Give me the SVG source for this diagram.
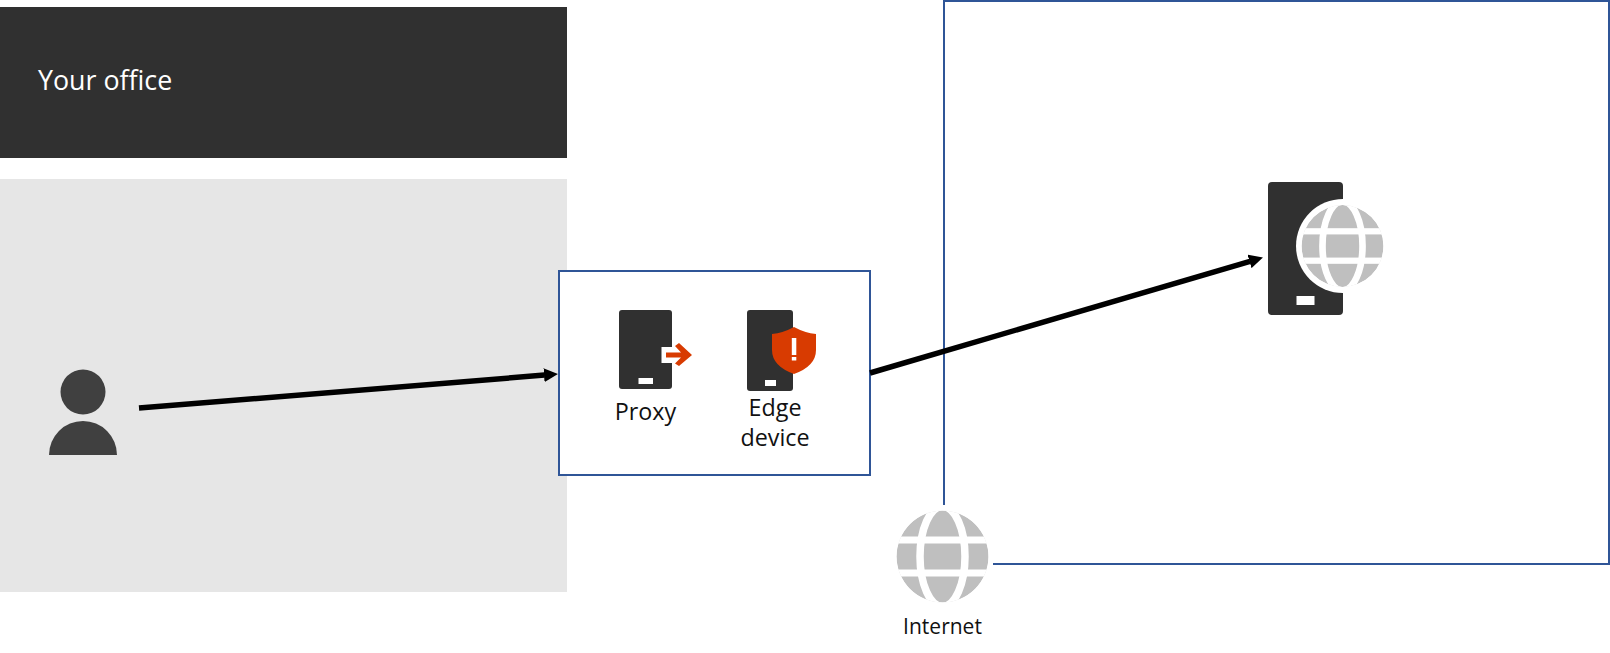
<svg xmlns="http://www.w3.org/2000/svg" width="1610" height="653" viewBox="0 0 1610 653">
<style>
text{font-family:"Open Sans","Noto Sans","Liberation Sans",sans-serif}
.dev{fill:#303030}
.w{fill:#fff}
.o{fill:#d83b01}
.blue{fill:none;stroke:#2f5597;stroke-width:2}
.arr{fill:none;stroke:#000;stroke-width:5.5}
.l{font-size:23.3px;fill:#111;text-anchor:middle}
</style>
<defs>
<marker id="ah" markerUnits="userSpaceOnUse" markerWidth="15" markerHeight="14" refX="0.5" refY="7" orient="auto"><path d="M0 0L14 7L0 14z" fill="#000"/></marker>
<clipPath id="gc"><circle cx="0" cy="0" r="46"/></clipPath>
<g id="globe"><g clip-path="url(#gc)"><circle r="46" fill="#bfbfbf"/><ellipse rx="22.5" ry="50" fill="none" stroke="#fff" stroke-width="7.5"/><rect x="-47" y="-20" width="94" height="7" class="w"/><rect x="-47" y="13" width="94" height="7" class="w"/></g></g>
</defs>
<g id="office-header"><rect x="0" y="7" width="567" height="151" class="dev"/><text x="38" y="90" font-size="26.800" fill="#fff">Your office</text></g>
<g id="office-area"><rect x="0" y="179" width="567" height="413" fill="#e6e6e6"/></g>
<g id="internet-box"><path class="blue" d="M944 505V1H1609V564H993"/></g>
<g id="edge-box"><rect x="559" y="271" width="311" height="204" fill="#fff" stroke="#2f5597" stroke-width="2"/></g>
<g id="user"><circle cx="83" cy="392" r="22.500" fill="#404040"/><path d="M49 455A34 34 0 0 1 117 455z" fill="#404040"/></g>
<g id="proxy"><rect x="619" y="310" width="53" height="79" rx="3" class="dev"/><rect x="638.500" y="378" width="14.500" height="6" class="w"/><rect x="661.500" y="347" width="11" height="16" class="w"/><path class="o" d="M666 352.500H681L675 346L679 343L692 355L679 366L675 363.500L681 357.500H666z"/><text x="645.500" y="420" class="l">Proxy</text></g>
<g id="edge-device"><rect x="747" y="310" width="46" height="81" rx="3" class="dev"/><rect x="765" y="380" width="11" height="6" class="w"/><path class="o" d="M772 334Q783 333 794 327Q805 333 816 334V350Q816 366 794 374Q772 366 772 350z"/><rect x="791.800" y="338" width="4.500" height="17" class="w"/><rect x="791.800" y="357" width="4.500" height="3.500" class="w"/><text x="775" y="416" class="l">Edge</text><text x="775" y="446" class="l">device</text></g>
<g id="web-server"><rect x="1268" y="182" width="75" height="133" rx="4" class="dev"/><rect x="1296.500" y="296" width="18" height="9" class="w"/><circle cx="1343" cy="246" r="47" class="w"/><use href="#globe" transform="translate(1342.500 246) scale(.89)"/></g>
<g id="internet"><use href="#globe" transform="translate(942.500 556.500)"/><text x="942.500" y="634" font-size="21" fill="#111" text-anchor="middle">Internet</text></g>
<g id="connectors"><path class="arr" marker-end="url(#ah)" d="M139 408L544.500 375.100"/><path class="arr" marker-end="url(#ah)" d="M870 373L1250 261.300"/></g>
</svg>
